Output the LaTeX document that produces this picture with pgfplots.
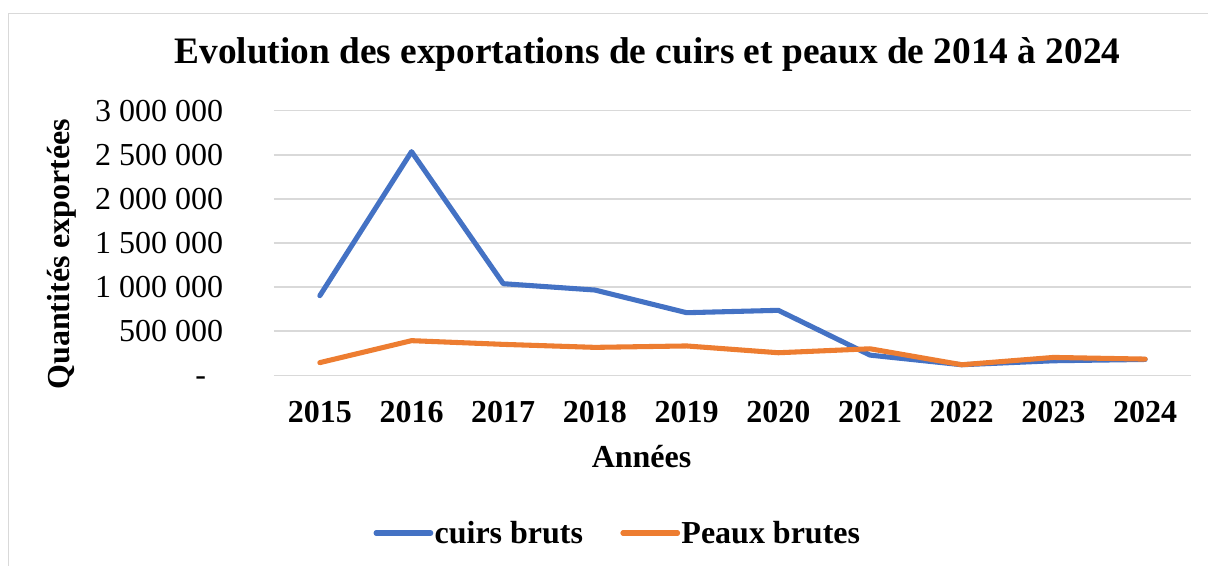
\documentclass[border=0pt]{standalone}
\usepackage{pgfplots}
\pgfplotsset{compat=1.18}
\usepackage{fontspec}
\setmainfont{Liberation Serif}
\definecolor{cblue}{HTML}{4472C4}
\definecolor{corange}{HTML}{ED7D31}
\definecolor{cgrid}{HTML}{D9D9D9}
\begin{document}
\begin{tikzpicture}
\useasboundingbox (0pt,0pt) rectangle (906pt,424.5pt);
% chart frame (left and top edges)
\draw[cgrid, line width=1.1pt] (6.4pt,0pt) -- (6.4pt,414.5pt) -- (906pt,414.5pt);
\begin{axis}[
  at={(205.5pt,143pt)}, anchor=south west,
  scale only axis, width=687.75pt, height=198.45pt,
  xmin=-0.5, xmax=9.5, ymin=0, ymax=3000000,
  axis line style={draw=none},
  major tick length=0pt,
  xtick={0,...,9},
  xticklabels={2015,2016,2017,2018,2019,2020,2021,2022,2023,2024},
  ytick={0,500000,1000000,1500000,2000000,2500000,3000000},
  yticklabels={\hbox{\vphantom{0}-\kern12.75pt},500 000,1 000 000,1 500 000,2 000 000,2 500 000,3 000 000},
  scaled y ticks=false,
  yticklabel style={font=\fontsize{24pt}{28pt}\selectfont, anchor=east, inner sep=0pt, xshift=-38pt},
  xticklabel style={font=\bfseries\fontsize{24pt}{28pt}\selectfont, anchor=base, inner sep=0pt, yshift=-35.5pt},
  ymajorgrids, grid style={cgrid, line width=1.1pt},
  title={Evolution des exportations de cuirs et peaux de 2014 à 2024},
  title style={font=\bfseries\fontsize{28pt}{32pt}\selectfont, at={(axis description cs:0.4073,1.150)}, anchor=base, inner sep=0pt},
  xlabel={Années},
  xlabel style={font=\bfseries\fontsize{24pt}{28pt}\selectfont, at={(axis description cs:0.4008,-0.349)}, anchor=base, inner sep=0pt},
  ylabel={Quantités exportées},
  ylabel style={font=\bfseries\fontsize{24pt}{28pt}\selectfont, at={(axis description cs:-0.231,0.458)}, anchor=center, rotate=0, inner sep=0pt},
  legend columns=2,
  legend style={draw=none, fill=none, at={(axis description cs:0.3746,-0.596)}, anchor=center,
    font=\bfseries\fontsize{24pt}{28pt}\selectfont,
    /tikz/every even column/.append style={column sep=27pt},
    nodes={inner sep=1pt}},
  legend image code/.code={\draw[#1, line cap=round] (0pt,0pt) -- (41pt,0pt);},
]
\addplot[cblue, line width=3.8pt, line join=round, line cap=round] coordinates {
 (0,903000) (1,2536000) (2,1039000) (3,967000) (4,710000)
 (5,737000) (6,229000) (7,120000) (8,165000) (9,180000)};
\addlegendentry{cuirs bruts}
\addplot[corange, line width=3.8pt, line join=round, line cap=round] coordinates {
 (0,144000) (1,393000) (2,351000) (3,317000) (4,333000)
 (5,256000) (6,301000) (7,120000) (8,203000) (9,184000)};
\addlegendentry{Peaux brutes}
\end{axis}
\end{tikzpicture}
\end{document}
